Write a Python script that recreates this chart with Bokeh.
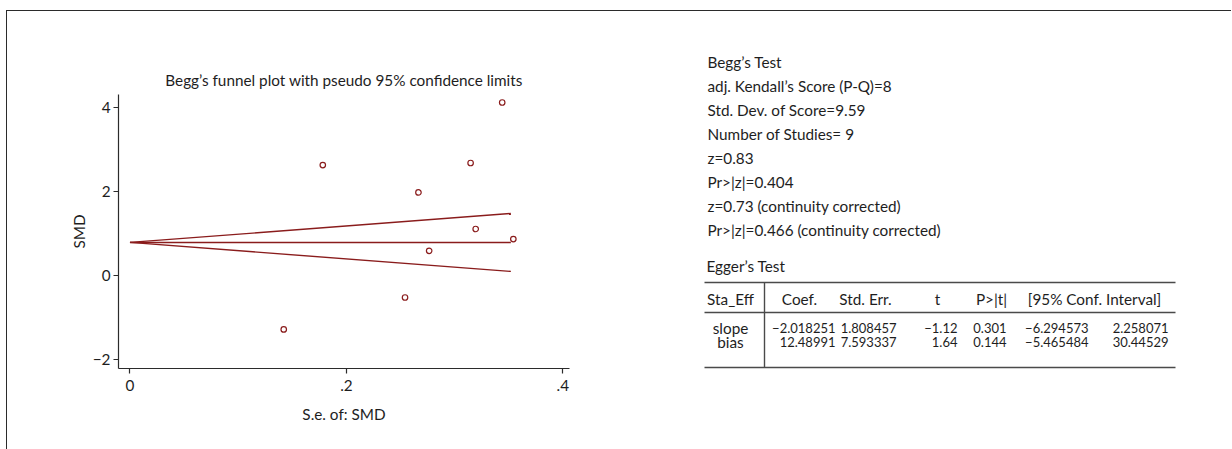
from bokeh.plotting import figure
from bokeh.models import Range1d, FixedTicker, CustomJSTickFormatter
from bokeh.layouts import row
from bokeh.core.properties import value
from bokeh.embed import file_html
from bokeh.resources import INLINE

# ---- funnel plot data ----
se = [0.1421, 0.1782, 0.2542, 0.2666, 0.2765, 0.3148, 0.3195, 0.3440, 0.3543]
smd = [-1.28, 2.63, -0.52, 1.98, 0.59, 2.68, 1.11, 4.12, 0.87]

# pooled estimate and pseudo 95% limits at se = 0 and at the largest se
funnel_se = [0.0, 0.352]
funnel_mid = [0.79, 0.79]
funnel_upper = [0.79, 1.48]
funnel_lower = [0.79, 0.10]

x_ticks = [0, 0.2, 0.4]
y_ticks = [-2, 0, 2, 4]

# ---- test statistics ----
begg_lines = [
    "Begg\u2019s Test",
    "adj. Kendall\u2019s Score (P-Q)=8",
    "Std. Dev. of Score=9.59",
    "Number of Studies= 9",
    "z=0.83",
    "Pr>|z|=0.404",
    "z=0.73 (continuity corrected)",
    "Pr>|z|=0.466 (continuity corrected)",
]
egger_title = "Egger\u2019s Test"
egger_header = ["Sta_Eff", "Coef.", "Std. Err.", "t", "P>|t|", "[95% Conf. Interval]"]
egger_rows = ["slope", "bias"]
egger_coef = ["\u22122.018251", "12.48991"]
egger_se = ["1.808457", "7.593337"]
egger_t = ["\u22121.12", "1.64"]
egger_p = ["0.301", "0.144"]
egger_lo = ["\u22126.294573", "\u22125.465484"]
egger_hi = ["2.258071", "30.44529"]

FONT = "Lato"
FS = "15.3px"
FS_NUM = "13px"
MAROON = "#8a1c1c"
INK = "#1e1e1e"
FRAME = "#2b2b2b"

# ---- funnel plot ----
p = figure(width=613, height=438,
           x_range=Range1d(-0.0106, 0.4062), y_range=Range1d(-2.21, 4.31),
           output_backend="svg", toolbar_location=None, frame_align=False,
           min_border_left=111, min_border_right=51,
           min_border_top=83, min_border_bottom=81)
p.grid.visible = False
p.outline_line_color = None
p.background_fill_color = "white"
p.border_fill_color = "white"

p.title.text = "Begg\u2019s funnel plot with pseudo 95% confidence limits"
p.title.align = "center"
p.title.text_font = FONT
p.title.text_font_size = FS
p.title.text_font_style = "normal"
p.title.text_color = INK
p.title.standoff = 12

p.line(funnel_se, funnel_upper, line_color=MAROON, line_width=1.4)
p.line(funnel_se, funnel_mid, line_color=MAROON, line_width=1.4)
p.line(funnel_se, funnel_lower, line_color=MAROON, line_width=1.4)
p.scatter(se, smd, marker="circle", size=5.5, fill_color="white",
          line_color=MAROON, line_width=1.2)

p.xaxis.ticker = FixedTicker(ticks=x_ticks)
p.yaxis.ticker = FixedTicker(ticks=y_ticks)
p.xaxis.formatter = CustomJSTickFormatter(
    code="return tick == 0 ? '0' : tick.toFixed(1).replace(/^0/, '');")
p.yaxis.formatter = CustomJSTickFormatter(
    code="return tick < 0 ? '\\u2212' + Math.abs(tick) : '' + tick;")
p.xaxis.axis_label = "S.e. of: SMD"
p.yaxis.axis_label = "SMD"

for ax in (p.xaxis, p.yaxis):
    ax.axis_line_color = FRAME
    ax.axis_line_width = 1.2
    ax.major_tick_line_color = FRAME
    ax.major_tick_line_width = 1.2
    ax.major_tick_out = 5
    ax.major_tick_in = 0
    ax.minor_tick_out = 0
    ax.minor_tick_in = 0
    ax.major_label_text_font = FONT
    ax.major_label_text_font_size = FS
    ax.major_label_text_color = INK
    ax.axis_label_text_font = FONT
    ax.axis_label_text_font_size = FS
    ax.axis_label_text_font_style = "normal"
    ax.axis_label_text_color = INK

p.xaxis.major_label_standoff = 6
p.xaxis.axis_label_standoff = 11
p.yaxis.major_label_standoff = 3
p.yaxis.major_label_orientation = "horizontal"
p.yaxis.axis_label_standoff = 2

# ---- statistics panel (canvas pixel coordinates) ----
t = figure(width=611, height=437, x_range=Range1d(620, 1231), y_range=Range1d(448, 11),
           title=None, x_axis_type=None, y_axis_type=None,
           output_backend="svg", toolbar_location=None, frame_align=False,
           min_border=0, min_border_left=0, min_border_right=0,
           min_border_top=0, min_border_bottom=0)
t.grid.visible = False
t.outline_line_color = None
t.background_fill_color = "white"
t.border_fill_color = "white"

text_kw = dict(text_font=value(FONT), text_color=INK, text_baseline="middle")

line_y = [61 + 24 * i for i in range(len(begg_lines))]
t.text(x=[707] * len(begg_lines), y=line_y, text=begg_lines, text_align="left",
       text_font_size=value(FS), **text_kw)
t.text(x=[706], y=[265], text=[egger_title], text_align="left",
       text_font_size=value(FS), **text_kw)

# table rules
t.segment(x0=[704, 704, 704], y0=[282, 312, 367], x1=[1175, 1175, 1175],
          y1=[282, 312, 367], line_color="#4a4a4a", line_width=1.4)
t.segment(x0=[764], y0=[282], x1=[764], y1=[367], line_color="#4a4a4a", line_width=1.4)

# header row
t.text(x=[730, 799, 865, 937, 991, 1094], y=[298] * 6, text=egger_header,
       text_align="center", text_font_size=value(FS), **text_kw)

# body rows
row_y = [327, 341]
t.text(x=[730, 730], y=row_y, text=egger_rows, text_align="center",
       text_font_size=value(FS), **text_kw)
for col_x, vals in ((835, egger_coef), (896, egger_se), (957, egger_t),
                    (1006, egger_p), (1088, egger_lo), (1168, egger_hi)):
    t.text(x=[col_x] * 2, y=row_y, text=vals, text_align="right",
           text_font_size=value(FS_NUM), **text_kw)

# outer frame: top and left rules around the panel pair
layout = row(p, t, spacing=0, margin=(10, 0, 0, 6),
             styles={"border-top": "1px solid #2b2b2b",
                     "border-left": "1px solid #2b2b2b"})

open("out.html", "w").write(file_html(layout, INLINE))
